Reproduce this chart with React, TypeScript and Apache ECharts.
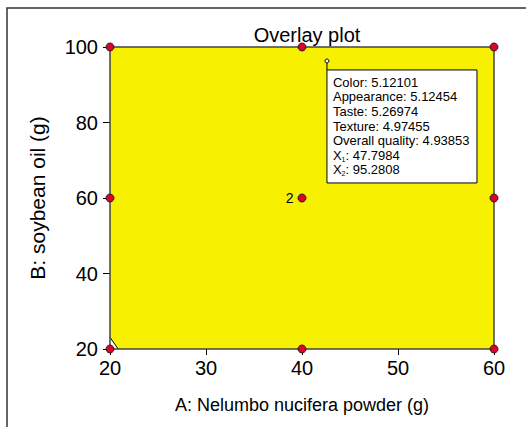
import React, { useEffect, useRef } from "react";
import * as echarts from "echarts";

const title = "Overlay plot";
const xName = "A: Nelumbo nucifera powder (g)";
const yName = "B: soybean oil (g)";
const xTicks = [20, 30, 40, 50, 60];
const yTicks = [20, 40, 60, 80, 100];

// feasible (yellow) region boundary
const regionX = [20, 20, 60, 60, 20.85];
const regionY = [23.1, 100, 100, 20, 20];

// design points
const pointX = [20, 20, 20, 40, 40, 40, 60, 60, 60];
const pointY = [20, 60, 100, 20, 60, 100, 20, 60, 100];
const pointLabel = ["", "", "", "", "2", "", "", "", ""];

// flag point
const flagX = 42.6;
const flagY = 96.3;
const flagLines = [
  "Color: 5.12101",
  "Appearance: 5.12454",
  "Taste: 5.26974",
  "Texture: 4.97455",
  "Overall quality: 4.93853",
  "X{s|1}: 47.7984",
  "X{s|2}: 95.2808",
];

const FONT = "'Liberation Sans', Arial, sans-serif";

export default function App() {
  const ref = useRef<HTMLDivElement>(null);
  useEffect(() => {
    const chart = echarts.init(ref.current!, null, { renderer: "svg" });
    const option: any = {
      animation: false,
      backgroundColor: "#ffffff",
      textStyle: { fontFamily: FONT },
      title: {
        text: title,
        left: 302,
        textAlign: "center",
        top: 20,
        textStyle: { fontFamily: FONT, fontSize: 20, fontWeight: "normal", color: "#000" },
      },
      grid: { left: 110, right: 32, top: 47, bottom: 78 },
      xAxis: {
        type: "value",
        min: 20,
        max: 60,
        interval: 10,
        name: xName,
        nameLocation: "middle",
        nameGap: 47,
        nameTextStyle: { fontFamily: FONT, fontSize: 18, color: "#000" },
        axisLine: { show: false },
        axisTick: { show: true, length: 6, lineStyle: { color: "#000" } },
        axisLabel: { fontFamily: FONT, fontSize: 20, color: "#000", margin: 9, formatter: (v: number) => (xTicks.includes(v) ? String(v) : "") },
        splitLine: { show: false },
      },
      yAxis: {
        type: "value",
        min: 20,
        max: 100,
        interval: 20,
        name: yName,
        nameLocation: "middle",
        nameGap: 62,
        nameTextStyle: { fontFamily: FONT, fontSize: 21, color: "#000" },
        axisLine: { show: false },
        axisTick: { show: true, length: 7, lineStyle: { color: "#000" } },
        axisLabel: { fontFamily: FONT, fontSize: 20, color: "#000", margin: 12, formatter: (v: number) => (yTicks.includes(v) ? String(v) : "") },
        splitLine: { show: false },
      },
      graphic: [
        {
          type: "rect",
          shape: { x: 7, y: 8, width: 560, height: 460 },
          style: { fill: "none", stroke: "#333", lineWidth: 1.5 },
          silent: true,
          z: 100,
        },
      ],
      series: [
        {
          type: "custom",
          coordinateSystem: "cartesian2d",
          data: [[0]],
          clip: false,
          z: 1,
          renderItem: (params: any, api: any) => {
            const pts = regionX.map((x, i) => api.coord([x, regionY[i]]));
            const bl = api.coord([20, 20]);
            const tr = api.coord([60, 100]);
            return {
              type: "group",
              children: [
                {
                  type: "polygon",
                  shape: { points: pts },
                  style: { fill: "#f7f000", stroke: "none" },
                },
                {
                  type: "line",
                  shape: { x1: pts[4][0], y1: pts[4][1], x2: pts[0][0], y2: pts[0][1] },
                  style: { stroke: "#000", lineWidth: 1 },
                },
                {
                  type: "rect",
                  shape: { x: bl[0], y: tr[1], width: tr[0] - bl[0], height: bl[1] - tr[1] },
                  style: { fill: "none", stroke: "#444", lineWidth: 1.5 },
                },
              ],
            };
          },
        },
        {
          type: "scatter",
          z: 5,
          symbol: "circle",
          symbolSize: 8,
          itemStyle: { color: "#e00028", borderColor: "#222", borderWidth: 1, opacity: 1 },
          data: pointX.map((x, i) => ({
            value: [x, pointY[i]],
            label: {
              show: pointLabel[i] !== "",
              formatter: pointLabel[i],
              position: "left",
              distance: 4,
              fontFamily: FONT,
              fontSize: 14,
              color: "#000",
            },
          })),
        },
        {
          type: "custom",
          coordinateSystem: "cartesian2d",
          data: [[flagX, flagY]],
          clip: false,
          z: 10,
          renderItem: (params: any, api: any) => {
            const p = api.coord([api.value(0), api.value(1)]);
            const bx = p[0];
            const by = p[1] + 9;
            return {
              type: "group",
              children: [
                {
                  type: "line",
                  shape: { x1: p[0], y1: p[1], x2: bx, y2: by },
                  style: { stroke: "#000", lineWidth: 1 },
                },
                {
                  type: "circle",
                  shape: { cx: p[0], cy: p[1], r: 2 },
                  style: { fill: "#fff", stroke: "#000", lineWidth: 1 },
                },
                {
                  type: "rect",
                  shape: { x: bx, y: by, width: 150, height: 113 },
                  style: { fill: "#fff", stroke: "#000", lineWidth: 1 },
                },
                {
                  type: "text",
                  x: bx + 6,
                  y: by + 5,
                  style: {
                    text: flagLines.join("\n"),
                    fontFamily: FONT,
                    fontSize: 13,
                    lineHeight: 14.6,
                    fill: "#000",
                    rich: {
                      s: { fontSize: 7, verticalAlign: "bottom", lineHeight: 14.6, fontFamily: FONT, fill: "#000" },
                    },
                  },
                },
              ],
            };
          },
        },
      ],
    };
    chart.setOption(option);
    return () => chart.dispose();
  }, []);
  return <div ref={ref} style={{ position: "fixed", left: 0, top: 0, width: 526, height: 427 }} />;
}
